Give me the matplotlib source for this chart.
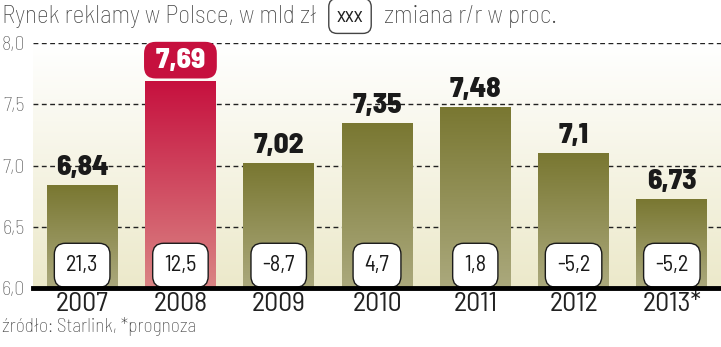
import matplotlib
matplotlib.use("Agg")
import matplotlib.pyplot as plt
import numpy as np
from matplotlib.colors import LinearSegmentedColormap

years = ["2007", "2008", "2009", "2010", "2011", "2012", "2013*"]
market = [6.84, 7.69, 7.02, 7.35, 7.48, 7.1, 6.73]
market_labels = ["6,84", "7,69", "7,02", "7,35", "7,48", "7,1", "6,73"]
change = ["21,3", "12,5", "-8,7", "4,7", "1,8", "-5,2", "-5,2"]
yticks = [6.0, 6.5, 7.0, 7.5, 8.0]
ytick_labels = ["6,0", "6,5", "7,0", "7,5", "8,0"]
highlight = 1

plt.rcParams['font.family'] = ['Barlow Semi Condensed', 'DejaVu Sans']

olive = LinearSegmentedColormap.from_list("olive", ["#aba97d", "#797731"])
crimson = LinearSegmentedColormap.from_list("crimson", ["#da8584", "#c6103e"])
backdrop = LinearSegmentedColormap.from_list("backdrop", ["#ece9ca", "#ffffff"])

fig = plt.figure(figsize=(7.21, 3.47), dpi=100)
ax = fig.add_axes([33 / 721, 59 / 347, 688 / 721, 245 / 347])

# tło z gradientem
grad = np.linspace(0, 1, 256).reshape(-1, 1)
ax.imshow(grad, cmap=backdrop, origin="lower", aspect="auto",
          extent=[-0.5, 6.5, 6.0, 8.0], zorder=0)

for y in yticks[1:]:
    ax.axhline(y, color="#222222", lw=1.0, ls=(0, (3.5, 2.5)), zorder=1)

x = np.arange(len(years))
bars = ax.bar(x, [m - 6.0 for m in market], bottom=6.0, width=0.72,
              color="none", zorder=2)
for i, b in enumerate(bars):
    cm = crimson if i == highlight else olive
    im = ax.imshow(grad, cmap=cm, origin="lower", aspect="auto",
                   extent=[b.get_x(), b.get_x() + b.get_width(), 6.0, market[i]],
                   zorder=2)
    im.set_clip_path(b)

ax.set_xlim(-0.5, 6.5)
ax.set_ylim(6.0, 8.0)

for i, (v, lab) in enumerate(zip(market, market_labels)):
    if i == highlight:
        ax.text(i, v + 0.17, " " + lab + " ", ha="center", va="center", fontsize=21,
                fontweight="heavy", color="white", zorder=4,
                bbox=dict(boxstyle="round,pad=0.2,rounding_size=0.4",
                          fc="#c6103e", ec="none"))
    else:
        ax.text(i, v + 0.04, lab, ha="center", va="bottom", fontsize=21,
                fontweight="heavy", color="#1a1a1a", zorder=4)
    ax.text(i, 6.185, change[i], ha="center", va="center", fontsize=16,
            color="#1a1a1a", zorder=4,
            bbox=dict(boxstyle="round,pad=0.52,rounding_size=0.5",
                      fc="white", ec="#1a1a1a", lw=1.0))

ax.axhline(6.0, color="black", lw=3.5, zorder=5, clip_on=False)

for s in ax.spines.values():
    s.set_visible(False)
ax.set_yticks(yticks)
ax.set_yticklabels(ytick_labels, fontsize=14.5, color="#555555", fontweight="light")
ax.tick_params(axis="y", length=0, pad=6)
ax.set_xticks(x)
ax.set_xticklabels(years, fontsize=20, color="#222222")
ax.tick_params(axis="x", length=0, pad=3)

fig.text(2 / 721, 1 - 16 / 347, "Rynek reklamy w Polsce, w mld zł", fontsize=18.3,
         color="#444444", va="center", ha="left", fontweight="light")
fig.text(350 / 721, 1 - 16 / 347, "xxx", fontsize=15, color="#222222",
         va="center", ha="center",
         bbox=dict(boxstyle="round,pad=0.38,rounding_size=0.4",
                   fc="white", ec="#444444", lw=1.0))
fig.text(384 / 721, 1 - 16 / 347, "zmiana r/r w proc.", fontsize=18.3,
         color="#444444", va="center", ha="left", fontweight="light")
fig.text(2 / 721, 1 - 327 / 347, "źródło: Starlink, *prognoza", fontsize=14,
         color="#444444", va="center", ha="left", fontweight="light")

fig.savefig("out.png", dpi=100)
